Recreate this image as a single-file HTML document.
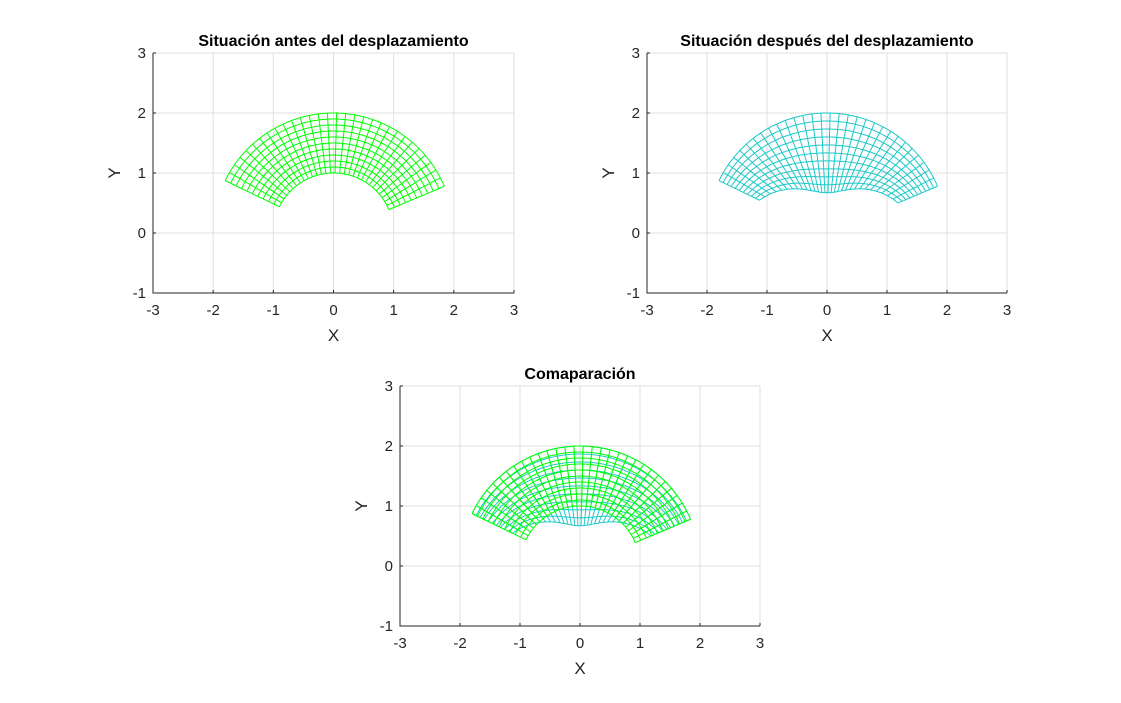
<!DOCTYPE html>
<html><head><meta charset="utf-8"><style>
html,body{margin:0;padding:0;background:#fff;}
svg{display:block;font-family:"Liberation Sans",Arial,sans-serif;}
</style></head><body>
<svg id="s" width="1121" height="703" xmlns="http://www.w3.org/2000/svg"></svg>
<script>
const S=document.getElementById('s');
let out='';
const axes=[
 {x0:153,x1:514,y0:53,y1:293,title:'Situación antes del desplazamiento',mode:0},
 {x0:647,x1:1007,y0:53,y1:293,title:'Situación después del desplazamiento',mode:1},
 {x0:400,x1:760,y0:386,y1:626,title:'Comaparación',mode:2}
];
const NA=30,NR=10,t0=0.4,t1=2.69;
function pt(r,t,def){
  let rr=r;
  if(def){const phi=t-Math.PI/2;const d=-0.33+1.0*(1-Math.exp(-Math.pow(phi/1.2,2)));rr=r+d*(2-r);}
  return [rr*Math.cos(t),rr*Math.sin(t)];
}
function mesh(a,def,col){
  const X=v=>a.x0+(v+3)*(a.x1-a.x0)/6, Y=v=>a.y1-(v+1)*(a.y1-a.y0)/4;
  let d='';
  for(let i=0;i<=NR;i++){const r=1+i/NR;
    for(let j=0;j<=90;j++){const t=t0+(t1-t0)*j/90;const p=pt(r,t,def);d+=(j?'L':'M')+X(p[0]).toFixed(2)+' '+Y(p[1]).toFixed(2);}}
  for(let j=0;j<=NA;j++){const t=t0+(t1-t0)*j/NA;
    for(let i=0;i<=NR;i++){const p=pt(1+i/NR,t,def);d+=(i?'L':'M')+X(p[0]).toFixed(2)+' '+Y(p[1]).toFixed(2);}}
  return '<path d="'+d+'" fill="none" stroke="'+col+'" stroke-width="1"/>';
}
for(const a of axes){
  const X=v=>a.x0+(v+3)*(a.x1-a.x0)/6, Y=v=>a.y1-(v+1)*(a.y1-a.y0)/4;
  for(let v=-3;v<=3;v++) out+=`<line x1="${X(v)}" x2="${X(v)}" y1="${a.y0}" y2="${a.y1}" stroke="#dfdfdf"/>`;
  for(let v=-1;v<=3;v++) out+=`<line x1="${a.x0}" x2="${a.x1}" y1="${Y(v)}" y2="${Y(v)}" stroke="#dfdfdf"/>`;
  if(a.mode==0) out+=mesh(a,false,'#00ff00');
  if(a.mode==1) out+=mesh(a,true,'#1cc8c8');
  if(a.mode==2){out+=mesh(a,true,'#1cc8c8');out+=mesh(a,false,'#00ff00');}
  out+=`<path d="M${a.x0} ${a.y0}V${a.y1}H${a.x1}" fill="none" stroke="#262626" stroke-width="1"/>`;
  for(let v=-3;v<=3;v++){out+=`<line x1="${X(v)}" x2="${X(v)}" y1="${a.y1}" y2="${a.y1-3}" stroke="#262626"/>`;
    out+=`<text x="${X(v)}" y="${a.y1+22}" font-size="15" text-anchor="middle" fill="#262626">${v}</text>`;}
  for(let v=-1;v<=3;v++){out+=`<line x1="${a.x0}" x2="${a.x0+3}" y1="${Y(v)}" y2="${Y(v)}" stroke="#262626"/>`;
    out+=`<text x="${a.x0-7}" y="${Y(v)+5}" font-size="15" text-anchor="end" fill="#262626">${v}</text>`;}
  const cx=(a.x0+a.x1)/2, cy=(a.y0+a.y1)/2;
  out+=`<text x="${cx}" y="${a.y1+48}" font-size="17" text-anchor="middle" fill="#262626">X</text>`;
  out+=`<text transform="translate(${a.x0-33},${cy}) rotate(-90)" font-size="17" text-anchor="middle" fill="#262626">Y</text>`;
  out+=`<text x="${cx}" y="${a.y0-7}" font-size="16" font-weight="bold" text-anchor="middle" fill="#000">${a.title}</text>`;
}
S.innerHTML=out;
</script>
</body></html>
